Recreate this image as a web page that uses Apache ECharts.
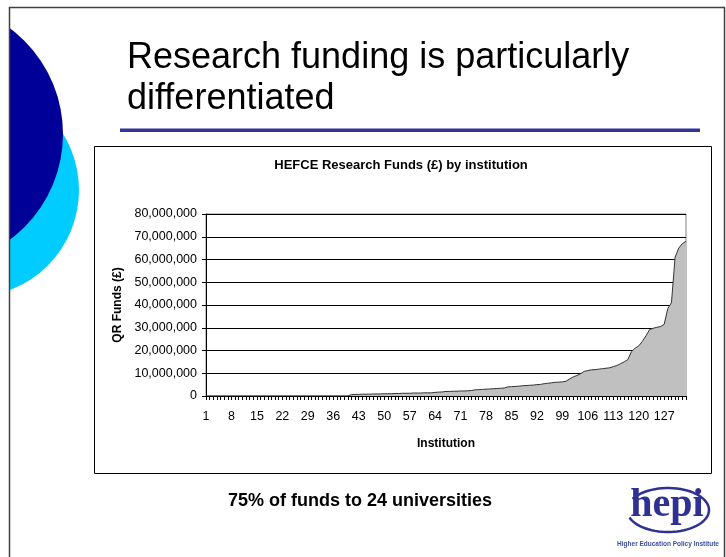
<!DOCTYPE html>
<html>
<head>
<meta charset="utf-8">
<script src="https://cdn.jsdelivr.net/npm/echarts@6/dist/echarts.min.js"></script>
<style>
  html, body { margin: 0; padding: 0; background: #fff; }
  #chart { width: 726px; height: 557px; }
</style>
</head>
<body>
<div id="chart"></div>
<script>
// HEFCE QR research funds per institution, £ millions, sorted ascending
const funds = [
  0, 0, 0, 0, 0, 0, 0, 0, 0, 0,
  0, 0, 0, 0, 0, 0, 0, 0, 0, 0,
  0, 0, 0, 0, 0, 0, 0, 0, 0, 0,
  0, 0, 0, 0, 0, 0, 0, 0, 0, 0,
  0.6, 0.7, 0.7, 0.8, 0.8, 0.8, 0.9, 0.9, 0.9, 1.0, 1.0, 1.0,
  1.1, 1.1, 1.2, 1.2, 1.2, 1.3, 1.3, 1.3, 1.4, 1.4, 1.4,
  1.6, 1.7, 1.8,
  2.0, 2.0, 2.1, 2.1, 2.2, 2.2, 2.3, 2.4,
  2.7, 2.8, 2.9, 3.0,
  3.1, 3.2, 3.3, 3.4, 3.5,
  4.0, 4.1, 4.2, 4.3,
  4.5, 4.6, 4.7, 4.8, 5.0, 5.1,
  5.4, 5.6, 5.8, 6.0, 6.1, 6.2,
  6.5, 7.5, 8.4, 9.0, 9.8, 10.8, 11.2, 11.5, 11.6, 11.8, 12.0, 12.2, 12.4, 12.9, 13.4, 14.2, 15.0, 16.0,
  19.5, 21.0, 22.0, 24.0, 26.5, 29.2, 29.8, 30.2, 30.5, 31.5, 38.5, 41.0, 61.0, 65.0, 67.0, 68.0
];

// Institution rank labels 1..N
const institutions = funds.map((_, i) => String(i + 1));

// Y axis range in £ millions
const yMin = 0;
const yMax = 80;
const yStep = 10;

const slideTitle = ['Research funding is particularly', 'differentiated'];
const chartTitle = 'HEFCE Research Funds (£) by institution';
const xName = 'Institution';
const yName = 'QR Funds (£)';
const footnote = '75% of funds to 24 universities';
const logoWord = 'hepi';
const logoCaption = 'Higher Education Policy Institute';

const FONT = '"Liberation Sans", Arial, Helvetica, sans-serif';

function withCommas(millions) {
  const n = Math.round(millions * 1000000);
  return String(n).replace(/\B(?=(\d{3})+(?!\d))/g, ',');
}

// open oval swoosh around the logo word
function swooshPoints(cx, cy, rx, ry, fromDeg, toDeg, steps) {
  const pts = [];
  for (let k = 0; k <= steps; k++) {
    const a = (fromDeg + (toDeg - fromDeg) * k / steps) * Math.PI / 180;
    pts.push([cx + rx * Math.cos(a), cy + ry * Math.sin(a)]);
  }
  return pts;
}

const chart = echarts.init(document.getElementById('chart'), null, { renderer: 'canvas' });

const option = {
  animation: false,
  backgroundColor: '#ffffff',
  grid: {
    left: 206, top: 214, width: 480, height: 182,
    show: true, borderColor: '#808080', borderWidth: 1, backgroundColor: 'transparent'
  },
  xAxis: {
    type: 'category',
    data: institutions,
    boundaryGap: false,
    name: xName,
    nameLocation: 'middle',
    nameGap: 42,
    nameTextStyle: { fontFamily: FONT, fontWeight: 'bold', fontSize: 12, color: '#000' },
    axisLine: { lineStyle: { color: '#000', width: 1 } },
    axisTick: { show: true, interval: 0, length: 4, lineStyle: { color: '#000', width: 1 } },
    axisLabel: { interval: 6, margin: 14, fontFamily: FONT, fontSize: 12.5, color: '#000' },
    splitLine: { show: false }
  },
  yAxis: {
    type: 'value',
    min: yMin, max: yMax, interval: yStep,
    name: yName,
    nameLocation: 'middle',
    nameGap: 80,
    nameTextStyle: { fontFamily: FONT, fontWeight: 'bold', fontSize: 12, color: '#000' },
    axisLine: { show: true, lineStyle: { color: '#000', width: 1 } },
    axisTick: { show: true, length: 4, lineStyle: { color: '#000', width: 1 } },
    axisLabel: {
      margin: 9, fontFamily: FONT, fontSize: 12.5, color: '#000',
      formatter: v => (v === 0 ? '0' : withCommas(v))
    },
    splitLine: { show: true, lineStyle: { color: '#000', width: 1 } }
  },
  series: [{
    type: 'line',
    data: funds,
    symbol: 'none',
    lineStyle: { color: '#333333', width: 1 },
    areaStyle: { color: '#c0c0c0', opacity: 1 },
    z: 3
  }],
  graphic: [
    // decorative circles on the slide's left edge
    { type: 'circle', shape: { cx: -28, cy: 190, r: 107 }, style: { fill: '#00ccff' }, z: 0 },
    { type: 'circle', shape: { cx: -69, cy: 134, r: 132 }, style: { fill: '#000099' }, z: 0 },
    { type: 'rect', shape: { x: 0, y: 0, width: 9, height: 557 }, style: { fill: '#ffffff' }, z: 0 },
    // slide border
    { type: 'rect', shape: { x: 9.5, y: 7.5, width: 715, height: 560 },
      style: { fill: 'none', stroke: '#404040', lineWidth: 1.5 }, z: 0 },
    // slide title
    { type: 'text', x: 127, y: 58, style: { text: slideTitle[0], font: '36px ' + FONT, fill: '#000',
      align: 'left', verticalAlign: 'middle' }, z: 1 },
    { type: 'text', x: 127, y: 99, style: { text: slideTitle[1], font: '36px ' + FONT, fill: '#000',
      align: 'left', verticalAlign: 'middle' }, z: 1 },
    { type: 'rect', shape: { x: 120, y: 128.5, width: 580, height: 3.5 }, style: { fill: '#333399' }, z: 1 },
    // chart frame and caption
    { type: 'rect', shape: { x: 94.5, y: 146.5, width: 617, height: 327 },
      style: { fill: 'none', stroke: '#000', lineWidth: 1 }, z: 1 },
    { type: 'text', x: 401, y: 165, style: { text: chartTitle, font: 'bold 13px ' + FONT, fill: '#000',
      align: 'center', verticalAlign: 'middle' }, z: 1 },
    // footnote
    { type: 'text', x: 228, y: 501, style: { text: footnote, font: 'bold 18px ' + FONT, fill: '#000',
      align: 'left', verticalAlign: 'middle' }, z: 1 },
    // logo
    { type: 'polyline', shape: { points: swooshPoints(668, 510, 41, 22, 160, -150, 60) },
      style: { fill: 'none', stroke: '#2e3192', lineWidth: 2.5 }, z: 1 },
    { type: 'text', x: 667, y: 506, style: { text: logoWord, font: 'bold 40px "Liberation Serif", "Times New Roman", serif',
      fill: '#2e3192', align: 'center', verticalAlign: 'middle' }, z: 1 },
    { type: 'text', x: 668, y: 544, style: { text: logoCaption, font: 'bold 6.5px ' + FONT, fill: '#3c4fa0',
      align: 'center', verticalAlign: 'middle' }, z: 1 }
  ]
};

chart.setOption(option);
</script>
</body>
</html>
